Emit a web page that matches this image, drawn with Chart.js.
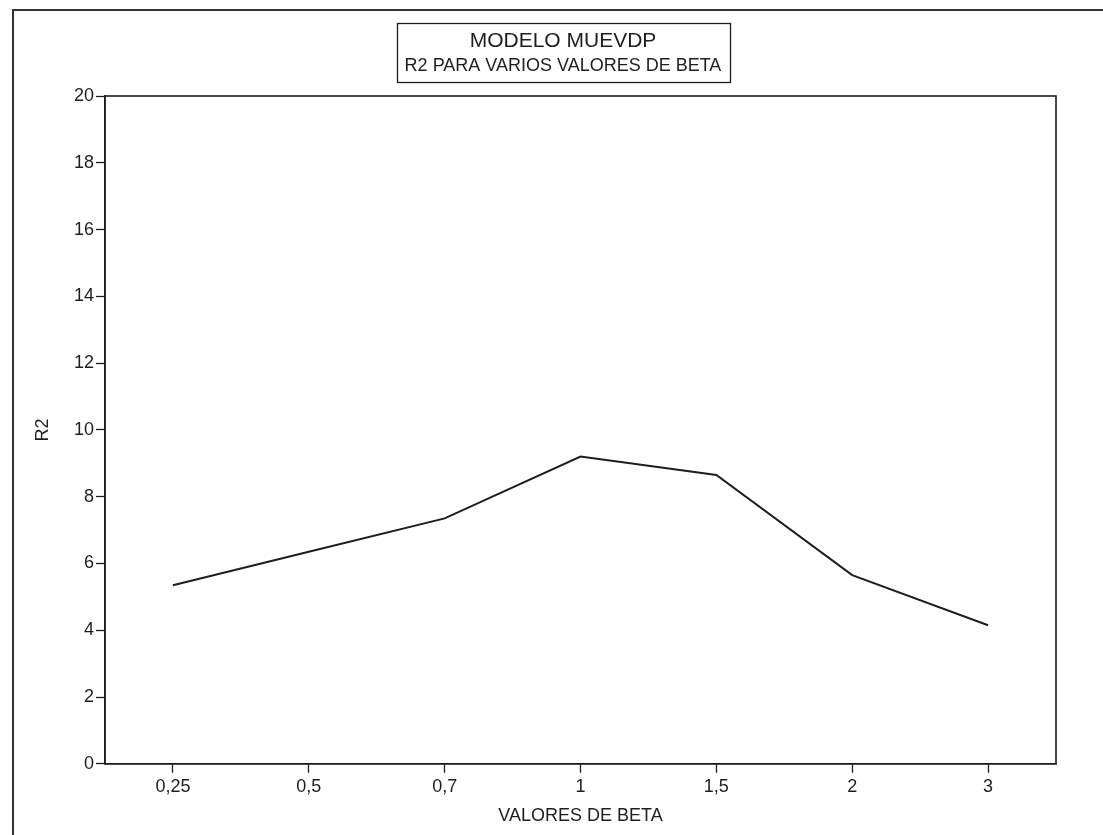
<!DOCTYPE html>
<html>
<head>
<meta charset="utf-8">
<script src="https://cdn.jsdelivr.net/npm/chart.js@4.4.1/dist/chart.umd.min.js"></script>
<style>
  html, body { margin: 0; padding: 0; background: #ffffff; }
  #wrap { position: relative; width: 1103px; height: 835px; }
</style>
</head>
<body>
<div id="wrap"><canvas id="chart" width="1103" height="835"></canvas></div>
<script>
// categories and values
const betaLabels = ['0,25', '0,5', '0,7', '1', '1,5', '2', '3']
const r2Values = [5.35, 6.35, 7.35, 9.2, 8.65, 5.65, 4.15]
const yMin = 0
const yMax = 20
const yStep = 2

const titleLines = ['MODELO MUEVDP', 'R2 PARA VARIOS VALORES DE BETA']
const FONT = '"Liberation Sans", Arial, Helvetica, sans-serif'
const INK = '#1e1e1e'

// frame of the page, box round the title and the closed plot border
const decorations = {
  id: 'decorations',
  afterDraw(chart) {
    const ctx = chart.ctx
    const area = chart.chartArea
    ctx.save()

    // outer frame (only top and left are visible in the scan)
    ctx.strokeStyle = '#333'
    ctx.lineWidth = 2
    ctx.beginPath()
    ctx.moveTo(13, chart.height)
    ctx.lineTo(13, 10)
    ctx.lineTo(chart.width, 10)
    ctx.stroke()

    // plot border
    ctx.strokeStyle = INK
    ctx.lineWidth = 1.6
    ctx.strokeRect(area.left, area.top, area.right - area.left, area.bottom - area.top)

    // title box and its two lines
    const cx = 563
    ctx.fillStyle = INK
    ctx.textAlign = 'center'
    ctx.textBaseline = 'middle'
    ctx.font = '21px ' + FONT
    ctx.fillText(titleLines[0], cx, 41)
    ctx.font = '18px ' + FONT
    ctx.fillText(titleLines[1], cx, 66)
    const w = ctx.measureText(titleLines[1]).width + 16
    ctx.lineWidth = 1.3
    ctx.strokeRect(Math.round(cx - w / 2) + 0.5, 23.5, Math.round(w), 59)

    ctx.restore()
  }
}

new Chart(document.getElementById('chart'), {
  type: 'line',
  data: {
    labels: betaLabels,
    datasets: [
      {
        label: 'R2',
        data: r2Values,
        borderColor: INK,
        borderWidth: 2,
        pointRadius: 0,
        tension: 0,
        fill: false
      }
    ]
  },
  plugins: [decorations],
  options: {
    responsive: false,
    animation: false,
    layout: {
      padding: {
        top: 96,
        right: 47,
        bottom: 6,
        left: 28
      }
    },
    plugins: {
      legend: { display: false },
      tooltip: { enabled: false },
      title: { display: false }
    },
    scales: {
      x: {
        offset: true,
        border: { display: true, color: INK, width: 1.6 },
        grid: {
          display: true,
          drawOnChartArea: false,
          drawTicks: true,
          tickLength: 9,
          tickColor: INK,
          tickWidth: 1.3,
          offset: false
        },
        ticks: {
          color: INK,
          padding: 3,
          maxRotation: 0,
          font: { family: FONT, size: 18 }
        },
        title: {
          display: true,
          text: 'VALORES DE BETA',
          color: INK,
          padding: { top: 5, bottom: 2 },
          font: { family: FONT, size: 18 }
        }
      },
      y: {
        min: yMin,
        max: yMax,
        border: { display: true, color: INK, width: 1.6 },
        grid: {
          display: true,
          drawOnChartArea: false,
          drawTicks: true,
          tickLength: 9,
          tickColor: INK,
          tickWidth: 1.3
        },
        ticks: {
          stepSize: yStep,
          color: INK,
          padding: 2,
          font: { family: FONT, size: 18 }
        },
        title: {
          display: true,
          text: 'R2',
          color: INK,
          padding: { top: 4, bottom: 4 },
          font: { family: FONT, size: 18 }
        },
        afterFit: function(scale) {
          scale.width = 77
        }
      }
    }
  }
})
</script>
</body>
</html>
